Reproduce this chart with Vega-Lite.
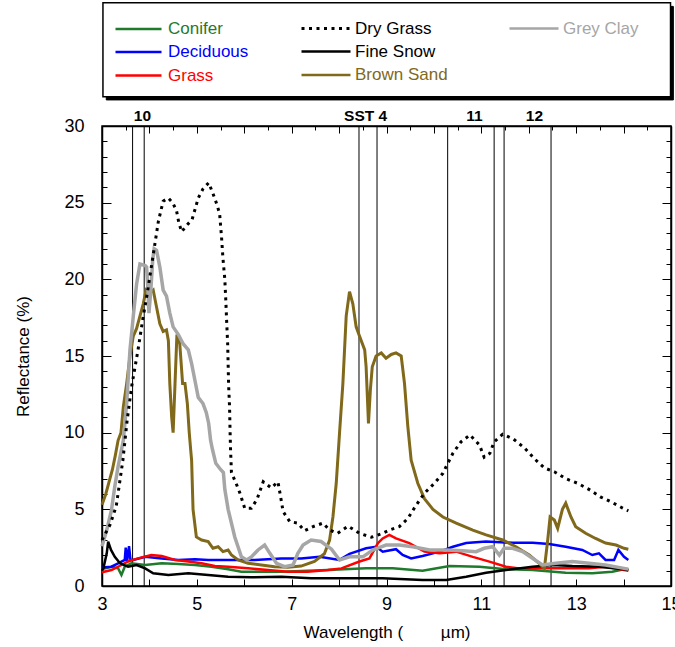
{
  "$schema": "https://vega.github.io/schema/vega-lite/v6.json",
  "autosize": "none",
  "width": 569,
  "height": 460,
  "padding": {"left": 102, "top": 126, "right": 4, "bottom": 61},
  "config": {
    "font": "Liberation Sans",
    "view": {"stroke": "#000", "strokeWidth": 1.5},
    "axis": {"domainColor": "#000", "domainWidth": 1.5, "tickColor": "#000", "labelColor": "#000", "titleColor": "#000", "grid": false, "labelFont": "Liberation Sans", "titleFont": "Liberation Sans"},
    "legend": {"labelFont": "Liberation Sans"}
  },
  "datasets": {
    "one": [{}],
    "bands": [{"wl": 3.645}, {"wl": 3.89}, {"wl": 8.42}, {"wl": 8.8}, {"wl": 10.29}, {"wl": 11.27}, {"wl": 11.48}, {"wl": 12.47}],
    "bandlabels": [{"label": "10", "wl": 3.854}, {"label": "SST 4", "wl": 8.56}, {"label": "11", "wl": 10.855}, {"label": "12", "wl": 12.12}],
    "conifer": [
      {"series": "Conifer", "wl": 3.0, "refl": 1.1}, {"series": "Conifer", "wl": 3.2, "refl": 1.26}, {"series": "Conifer", "wl": 3.34, "refl": 1.15}, {"series": "Conifer", "wl": 3.41, "refl": 0.72}, {"series": "Conifer", "wl": 3.48, "refl": 1.26}, {"series": "Conifer", "wl": 3.62, "refl": 1.48}, {"series": "Conifer", "wl": 3.91, "refl": 1.37}, {"series": "Conifer", "wl": 4.26, "refl": 1.48}, {"series": "Conifer", "wl": 4.61, "refl": 1.44}, {"series": "Conifer", "wl": 4.96, "refl": 1.37}, {"series": "Conifer", "wl": 5.31, "refl": 1.26}, {"series": "Conifer", "wl": 5.66, "refl": 1.09}, {"series": "Conifer", "wl": 5.94, "refl": 0.93}, {"series": "Conifer", "wl": 6.36, "refl": 0.93}, {"series": "Conifer", "wl": 6.78, "refl": 0.93}, {"series": "Conifer", "wl": 7.2, "refl": 0.98}, {"series": "Conifer", "wl": 7.76, "refl": 1.04}, {"series": "Conifer", "wl": 8.57, "refl": 1.15}, {"series": "Conifer", "wl": 9.13, "refl": 1.15}, {"series": "Conifer", "wl": 9.76, "refl": 1.0}, {"series": "Conifer", "wl": 10.33, "refl": 1.3}, {"series": "Conifer", "wl": 10.96, "refl": 1.26}, {"series": "Conifer", "wl": 11.52, "refl": 1.09}, {"series": "Conifer", "wl": 12.08, "refl": 1.04}, {"series": "Conifer", "wl": 12.78, "refl": 0.87}, {"series": "Conifer", "wl": 13.34, "refl": 0.83}, {"series": "Conifer", "wl": 13.76, "refl": 0.93}, {"series": "Conifer", "wl": 14.01, "refl": 1.09}, {"series": "Conifer", "wl": 14.1, "refl": 1.1}
    ],
    "deciduous": [
      {"series": "Deciduous", "wl": 3.0, "refl": 1.2}, {"series": "Deciduous", "wl": 3.2, "refl": 1.26}, {"series": "Deciduous", "wl": 3.34, "refl": 1.48}, {"series": "Deciduous", "wl": 3.48, "refl": 1.7}, {"series": "Deciduous", "wl": 3.5, "refl": 2.5}, {"series": "Deciduous", "wl": 3.53, "refl": 1.6}, {"series": "Deciduous", "wl": 3.57, "refl": 2.6}, {"series": "Deciduous", "wl": 3.6, "refl": 1.7}, {"series": "Deciduous", "wl": 3.66, "refl": 1.7}, {"series": "Deciduous", "wl": 3.91, "refl": 1.9}, {"series": "Deciduous", "wl": 4.26, "refl": 1.8}, {"series": "Deciduous", "wl": 4.61, "refl": 1.7}, {"series": "Deciduous", "wl": 4.96, "refl": 1.74}, {"series": "Deciduous", "wl": 5.24, "refl": 1.7}, {"series": "Deciduous", "wl": 5.8, "refl": 1.7}, {"series": "Deciduous", "wl": 6.22, "refl": 1.7}, {"series": "Deciduous", "wl": 6.78, "refl": 1.8}, {"series": "Deciduous", "wl": 7.2, "refl": 1.8}, {"series": "Deciduous", "wl": 7.59, "refl": 1.9}, {"series": "Deciduous", "wl": 8.01, "refl": 1.7}, {"series": "Deciduous", "wl": 8.22, "refl": 2.1}, {"series": "Deciduous", "wl": 8.57, "refl": 2.46}, {"series": "Deciduous", "wl": 8.78, "refl": 2.56}, {"series": "Deciduous", "wl": 8.92, "refl": 2.24}, {"series": "Deciduous", "wl": 9.2, "refl": 2.4}, {"series": "Deciduous", "wl": 9.34, "refl": 2.02}, {"series": "Deciduous", "wl": 9.52, "refl": 1.8}, {"series": "Deciduous", "wl": 9.76, "refl": 1.96}, {"series": "Deciduous", "wl": 10.12, "refl": 2.24}, {"series": "Deciduous", "wl": 10.4, "refl": 2.56}, {"series": "Deciduous", "wl": 10.68, "refl": 2.8}, {"series": "Deciduous", "wl": 11.1, "refl": 2.9}, {"series": "Deciduous", "wl": 11.66, "refl": 2.82}, {"series": "Deciduous", "wl": 12.08, "refl": 2.82}, {"series": "Deciduous", "wl": 12.43, "refl": 2.74}, {"series": "Deciduous", "wl": 12.78, "refl": 2.56}, {"series": "Deciduous", "wl": 13.13, "refl": 2.35}, {"series": "Deciduous", "wl": 13.34, "refl": 2.02}, {"series": "Deciduous", "wl": 13.48, "refl": 2.13}, {"series": "Deciduous", "wl": 13.62, "refl": 1.7}, {"series": "Deciduous", "wl": 13.8, "refl": 1.7}, {"series": "Deciduous", "wl": 13.89, "refl": 2.35}, {"series": "Deciduous", "wl": 14.01, "refl": 1.9}, {"series": "Deciduous", "wl": 14.1, "refl": 1.7}
    ],
    "grass": [
      {"series": "Grass", "wl": 3.0, "refl": 0.9}, {"series": "Grass", "wl": 3.2, "refl": 1.04}, {"series": "Grass", "wl": 3.41, "refl": 1.37}, {"series": "Grass", "wl": 3.55, "refl": 1.6}, {"series": "Grass", "wl": 3.76, "refl": 1.8}, {"series": "Grass", "wl": 4.04, "refl": 2.02}, {"series": "Grass", "wl": 4.26, "refl": 1.96}, {"series": "Grass", "wl": 4.54, "refl": 1.7}, {"series": "Grass", "wl": 4.82, "refl": 1.6}, {"series": "Grass", "wl": 5.1, "refl": 1.48}, {"series": "Grass", "wl": 5.38, "refl": 1.3}, {"series": "Grass", "wl": 5.66, "refl": 1.26}, {"series": "Grass", "wl": 6.08, "refl": 1.15}, {"series": "Grass", "wl": 6.5, "refl": 1.04}, {"series": "Grass", "wl": 6.92, "refl": 0.93}, {"series": "Grass", "wl": 7.34, "refl": 0.93}, {"series": "Grass", "wl": 7.76, "refl": 1.04}, {"series": "Grass", "wl": 8.05, "refl": 1.15}, {"series": "Grass", "wl": 8.43, "refl": 1.6}, {"series": "Grass", "wl": 8.64, "refl": 1.8}, {"series": "Grass", "wl": 8.82, "refl": 2.8}, {"series": "Grass", "wl": 8.92, "refl": 3.1}, {"series": "Grass", "wl": 9.06, "refl": 3.33}, {"series": "Grass", "wl": 9.2, "refl": 3.1}, {"series": "Grass", "wl": 9.48, "refl": 2.8}, {"series": "Grass", "wl": 9.8, "refl": 2.24}, {"series": "Grass", "wl": 10.12, "refl": 2.13}, {"series": "Grass", "wl": 10.47, "refl": 2.24}, {"series": "Grass", "wl": 10.82, "refl": 1.9}, {"series": "Grass", "wl": 11.17, "refl": 1.59}, {"series": "Grass", "wl": 11.52, "refl": 1.26}, {"series": "Grass", "wl": 11.8, "refl": 1.15}, {"series": "Grass", "wl": 12.22, "refl": 1.15}, {"series": "Grass", "wl": 12.78, "refl": 1.15}, {"series": "Grass", "wl": 13.27, "refl": 1.15}, {"series": "Grass", "wl": 13.62, "refl": 1.26}, {"series": "Grass", "wl": 14.01, "refl": 1.04}, {"series": "Grass", "wl": 14.1, "refl": 1.0}
    ],
    "drygrass": [
      {"series": "Dry Grass", "wl": 3.0, "refl": 3.0}, {"series": "Dry Grass", "wl": 3.17, "refl": 4.0}, {"series": "Dry Grass", "wl": 3.3, "refl": 5.2}, {"series": "Dry Grass", "wl": 3.44, "refl": 8.2}, {"series": "Dry Grass", "wl": 3.53, "refl": 10.8}, {"series": "Dry Grass", "wl": 3.63, "refl": 13.1}, {"series": "Dry Grass", "wl": 3.76, "refl": 15.4}, {"series": "Dry Grass", "wl": 3.86, "refl": 17.4}, {"series": "Dry Grass", "wl": 3.95, "refl": 19.0}, {"series": "Dry Grass", "wl": 4.05, "refl": 21.0}, {"series": "Dry Grass", "wl": 4.12, "refl": 22.4}, {"series": "Dry Grass", "wl": 4.19, "refl": 23.8}, {"series": "Dry Grass", "wl": 4.29, "refl": 25.1}, {"series": "Dry Grass", "wl": 4.4, "refl": 25.3}, {"series": "Dry Grass", "wl": 4.49, "refl": 25.0}, {"series": "Dry Grass", "wl": 4.57, "refl": 24.5}, {"series": "Dry Grass", "wl": 4.62, "refl": 23.7}, {"series": "Dry Grass", "wl": 4.68, "refl": 23.1}, {"series": "Dry Grass", "wl": 4.78, "refl": 23.5}, {"series": "Dry Grass", "wl": 4.9, "refl": 23.9}, {"series": "Dry Grass", "wl": 5.03, "refl": 25.3}, {"series": "Dry Grass", "wl": 5.13, "refl": 25.9}, {"series": "Dry Grass", "wl": 5.25, "refl": 26.3}, {"series": "Dry Grass", "wl": 5.34, "refl": 25.6}, {"series": "Dry Grass", "wl": 5.41, "refl": 25.0}, {"series": "Dry Grass", "wl": 5.48, "refl": 24.3}, {"series": "Dry Grass", "wl": 5.52, "refl": 22.8}, {"series": "Dry Grass", "wl": 5.55, "refl": 21.4}, {"series": "Dry Grass", "wl": 5.59, "refl": 20.0}, {"series": "Dry Grass", "wl": 5.61, "refl": 18.7}, {"series": "Dry Grass", "wl": 5.63, "refl": 17.2}, {"series": "Dry Grass", "wl": 5.65, "refl": 15.8}, {"series": "Dry Grass", "wl": 5.66, "refl": 14.5}, {"series": "Dry Grass", "wl": 5.67, "refl": 13.1}, {"series": "Dry Grass", "wl": 5.69, "refl": 11.7}, {"series": "Dry Grass", "wl": 5.7, "refl": 10.2}, {"series": "Dry Grass", "wl": 5.71, "refl": 9.0}, {"series": "Dry Grass", "wl": 5.73, "refl": 7.4}, {"series": "Dry Grass", "wl": 5.84, "refl": 6.6}, {"series": "Dry Grass", "wl": 5.91, "refl": 6.05}, {"series": "Dry Grass", "wl": 6.01, "refl": 5.07}, {"series": "Dry Grass", "wl": 6.15, "refl": 5.07}, {"series": "Dry Grass", "wl": 6.27, "refl": 5.66}, {"series": "Dry Grass", "wl": 6.4, "refl": 6.8}, {"series": "Dry Grass", "wl": 6.57, "refl": 6.4}, {"series": "Dry Grass", "wl": 6.71, "refl": 6.8}, {"series": "Dry Grass", "wl": 6.76, "refl": 5.94}, {"series": "Dry Grass", "wl": 6.82, "refl": 4.85}, {"series": "Dry Grass", "wl": 6.96, "refl": 4.2}, {"series": "Dry Grass", "wl": 7.13, "refl": 4.1}, {"series": "Dry Grass", "wl": 7.27, "refl": 3.6}, {"series": "Dry Grass", "wl": 7.45, "refl": 3.87}, {"series": "Dry Grass", "wl": 7.66, "refl": 4.1}, {"series": "Dry Grass", "wl": 7.8, "refl": 3.65}, {"series": "Dry Grass", "wl": 7.97, "refl": 3.44}, {"series": "Dry Grass", "wl": 8.19, "refl": 3.9}, {"series": "Dry Grass", "wl": 8.43, "refl": 3.44}, {"series": "Dry Grass", "wl": 8.68, "refl": 3.18}, {"series": "Dry Grass", "wl": 8.89, "refl": 3.4}, {"series": "Dry Grass", "wl": 9.06, "refl": 3.65}, {"series": "Dry Grass", "wl": 9.27, "refl": 3.87}, {"series": "Dry Grass", "wl": 9.45, "refl": 4.4}, {"series": "Dry Grass", "wl": 9.61, "refl": 5.2}, {"series": "Dry Grass", "wl": 9.8, "refl": 6.05}, {"series": "Dry Grass", "wl": 10.01, "refl": 6.7}, {"series": "Dry Grass", "wl": 10.19, "refl": 7.35}, {"series": "Dry Grass", "wl": 10.26, "refl": 7.8}, {"series": "Dry Grass", "wl": 10.4, "refl": 8.65}, {"series": "Dry Grass", "wl": 10.57, "refl": 9.4}, {"series": "Dry Grass", "wl": 10.76, "refl": 9.85}, {"series": "Dry Grass", "wl": 10.96, "refl": 9.2}, {"series": "Dry Grass", "wl": 11.06, "refl": 8.4}, {"series": "Dry Grass", "wl": 11.18, "refl": 8.65}, {"series": "Dry Grass", "wl": 11.27, "refl": 9.4}, {"series": "Dry Grass", "wl": 11.45, "refl": 9.9}, {"series": "Dry Grass", "wl": 11.67, "refl": 9.6}, {"series": "Dry Grass", "wl": 11.91, "refl": 9.0}, {"series": "Dry Grass", "wl": 12.12, "refl": 8.3}, {"series": "Dry Grass", "wl": 12.33, "refl": 7.7}, {"series": "Dry Grass", "wl": 12.54, "refl": 7.45}, {"series": "Dry Grass", "wl": 12.78, "refl": 7.0}, {"series": "Dry Grass", "wl": 13.03, "refl": 6.7}, {"series": "Dry Grass", "wl": 13.27, "refl": 6.3}, {"series": "Dry Grass", "wl": 13.52, "refl": 5.8}, {"series": "Dry Grass", "wl": 13.73, "refl": 5.5}, {"series": "Dry Grass", "wl": 13.97, "refl": 5.1}, {"series": "Dry Grass", "wl": 14.1, "refl": 4.9}
    ],
    "snow": [
      {"series": "Fine Snow", "wl": 3.0, "refl": 1.0}, {"series": "Fine Snow", "wl": 3.03, "refl": 1.15}, {"series": "Fine Snow", "wl": 3.1, "refl": 2.13}, {"series": "Fine Snow", "wl": 3.13, "refl": 2.9}, {"series": "Fine Snow", "wl": 3.19, "refl": 2.35}, {"series": "Fine Snow", "wl": 3.27, "refl": 1.9}, {"series": "Fine Snow", "wl": 3.38, "refl": 1.48}, {"series": "Fine Snow", "wl": 3.55, "refl": 1.26}, {"series": "Fine Snow", "wl": 3.73, "refl": 1.37}, {"series": "Fine Snow", "wl": 3.91, "refl": 1.15}, {"series": "Fine Snow", "wl": 4.08, "refl": 0.83}, {"series": "Fine Snow", "wl": 4.4, "refl": 0.72}, {"series": "Fine Snow", "wl": 4.82, "refl": 0.83}, {"series": "Fine Snow", "wl": 5.24, "refl": 0.72}, {"series": "Fine Snow", "wl": 5.66, "refl": 0.61}, {"series": "Fine Snow", "wl": 6.15, "refl": 0.57}, {"series": "Fine Snow", "wl": 6.78, "refl": 0.61}, {"series": "Fine Snow", "wl": 7.41, "refl": 0.5}, {"series": "Fine Snow", "wl": 8.05, "refl": 0.5}, {"series": "Fine Snow", "wl": 8.92, "refl": 0.5}, {"series": "Fine Snow", "wl": 9.76, "refl": 0.39}, {"series": "Fine Snow", "wl": 10.26, "refl": 0.39}, {"series": "Fine Snow", "wl": 10.68, "refl": 0.61}, {"series": "Fine Snow", "wl": 11.1, "refl": 0.87}, {"series": "Fine Snow", "wl": 11.52, "refl": 1.04}, {"series": "Fine Snow", "wl": 12.08, "refl": 1.26}, {"series": "Fine Snow", "wl": 12.5, "refl": 1.37}, {"series": "Fine Snow", "wl": 12.92, "refl": 1.3}, {"series": "Fine Snow", "wl": 13.48, "refl": 1.26}, {"series": "Fine Snow", "wl": 14.01, "refl": 1.09}, {"series": "Fine Snow", "wl": 14.1, "refl": 1.05}
    ],
    "sand": [
      {"series": "Brown Sand", "wl": 3.0, "refl": 5.3}, {"series": "Brown Sand", "wl": 3.08, "refl": 6.0}, {"series": "Brown Sand", "wl": 3.15, "refl": 6.8}, {"series": "Brown Sand", "wl": 3.22, "refl": 7.6}, {"series": "Brown Sand", "wl": 3.28, "refl": 8.5}, {"series": "Brown Sand", "wl": 3.34, "refl": 9.5}, {"series": "Brown Sand", "wl": 3.4, "refl": 10.0}, {"series": "Brown Sand", "wl": 3.45, "refl": 11.7}, {"series": "Brown Sand", "wl": 3.52, "refl": 13.2}, {"series": "Brown Sand", "wl": 3.59, "refl": 15.0}, {"series": "Brown Sand", "wl": 3.66, "refl": 16.3}, {"series": "Brown Sand", "wl": 3.73, "refl": 16.8}, {"series": "Brown Sand", "wl": 3.8, "refl": 17.6}, {"series": "Brown Sand", "wl": 3.87, "refl": 18.4}, {"series": "Brown Sand", "wl": 3.93, "refl": 19.3}, {"series": "Brown Sand", "wl": 4.01, "refl": 19.1}, {"series": "Brown Sand", "wl": 4.08, "refl": 19.3}, {"series": "Brown Sand", "wl": 4.15, "refl": 18.2}, {"series": "Brown Sand", "wl": 4.22, "refl": 17.1}, {"series": "Brown Sand", "wl": 4.29, "refl": 16.6}, {"series": "Brown Sand", "wl": 4.36, "refl": 16.7}, {"series": "Brown Sand", "wl": 4.4, "refl": 16.0}, {"series": "Brown Sand", "wl": 4.43, "refl": 13.2}, {"series": "Brown Sand", "wl": 4.47, "refl": 11.0}, {"series": "Brown Sand", "wl": 4.5, "refl": 10.0}, {"series": "Brown Sand", "wl": 4.54, "refl": 13.2}, {"series": "Brown Sand", "wl": 4.58, "refl": 16.4}, {"series": "Brown Sand", "wl": 4.64, "refl": 15.8}, {"series": "Brown Sand", "wl": 4.7, "refl": 13.2}, {"series": "Brown Sand", "wl": 4.75, "refl": 13.2}, {"series": "Brown Sand", "wl": 4.8, "refl": 11.9}, {"series": "Brown Sand", "wl": 4.84, "refl": 10.0}, {"series": "Brown Sand", "wl": 4.87, "refl": 8.9}, {"series": "Brown Sand", "wl": 4.89, "refl": 8.2}, {"series": "Brown Sand", "wl": 4.92, "refl": 5.0}, {"series": "Brown Sand", "wl": 4.99, "refl": 3.2}, {"series": "Brown Sand", "wl": 5.1, "refl": 3.0}, {"series": "Brown Sand", "wl": 5.24, "refl": 2.9}, {"series": "Brown Sand", "wl": 5.34, "refl": 2.46}, {"series": "Brown Sand", "wl": 5.45, "refl": 2.56}, {"series": "Brown Sand", "wl": 5.55, "refl": 2.24}, {"series": "Brown Sand", "wl": 5.66, "refl": 2.35}, {"series": "Brown Sand", "wl": 5.73, "refl": 2.02}, {"series": "Brown Sand", "wl": 5.87, "refl": 1.7}, {"series": "Brown Sand", "wl": 6.08, "refl": 1.48}, {"series": "Brown Sand", "wl": 6.36, "refl": 1.37}, {"series": "Brown Sand", "wl": 6.64, "refl": 1.26}, {"series": "Brown Sand", "wl": 6.92, "refl": 1.22}, {"series": "Brown Sand", "wl": 7.2, "refl": 1.3}, {"series": "Brown Sand", "wl": 7.48, "refl": 1.6}, {"series": "Brown Sand", "wl": 7.69, "refl": 2.1}, {"series": "Brown Sand", "wl": 7.8, "refl": 3.0}, {"series": "Brown Sand", "wl": 7.87, "refl": 4.5}, {"series": "Brown Sand", "wl": 7.94, "refl": 6.7}, {"series": "Brown Sand", "wl": 8.01, "refl": 10.0}, {"series": "Brown Sand", "wl": 8.08, "refl": 13.2}, {"series": "Brown Sand", "wl": 8.15, "refl": 17.6}, {"series": "Brown Sand", "wl": 8.22, "refl": 19.2}, {"series": "Brown Sand", "wl": 8.29, "refl": 18.4}, {"series": "Brown Sand", "wl": 8.36, "refl": 16.9}, {"series": "Brown Sand", "wl": 8.43, "refl": 16.3}, {"series": "Brown Sand", "wl": 8.54, "refl": 15.4}, {"series": "Brown Sand", "wl": 8.57, "refl": 14.3}, {"series": "Brown Sand", "wl": 8.62, "refl": 10.6}, {"series": "Brown Sand", "wl": 8.66, "refl": 12.8}, {"series": "Brown Sand", "wl": 8.7, "refl": 14.3}, {"series": "Brown Sand", "wl": 8.78, "refl": 15.0}, {"series": "Brown Sand", "wl": 8.89, "refl": 15.2}, {"series": "Brown Sand", "wl": 8.99, "refl": 14.85}, {"series": "Brown Sand", "wl": 9.1, "refl": 15.1}, {"series": "Brown Sand", "wl": 9.2, "refl": 15.2}, {"series": "Brown Sand", "wl": 9.31, "refl": 15.0}, {"series": "Brown Sand", "wl": 9.38, "refl": 13.2}, {"series": "Brown Sand", "wl": 9.45, "refl": 10.4}, {"series": "Brown Sand", "wl": 9.52, "refl": 8.2}, {"series": "Brown Sand", "wl": 9.66, "refl": 6.7}, {"series": "Brown Sand", "wl": 9.8, "refl": 5.7}, {"series": "Brown Sand", "wl": 9.98, "refl": 5.0}, {"series": "Brown Sand", "wl": 10.19, "refl": 4.5}, {"series": "Brown Sand", "wl": 10.47, "refl": 4.1}, {"series": "Brown Sand", "wl": 10.82, "refl": 3.65}, {"series": "Brown Sand", "wl": 11.1, "refl": 3.33}, {"series": "Brown Sand", "wl": 11.45, "refl": 3.0}, {"series": "Brown Sand", "wl": 11.73, "refl": 2.56}, {"series": "Brown Sand", "wl": 12.01, "refl": 2.02}, {"series": "Brown Sand", "wl": 12.22, "refl": 1.48}, {"series": "Brown Sand", "wl": 12.33, "refl": 1.15}, {"series": "Brown Sand", "wl": 12.4, "refl": 3.0}, {"series": "Brown Sand", "wl": 12.45, "refl": 4.5}, {"series": "Brown Sand", "wl": 12.54, "refl": 4.3}, {"series": "Brown Sand", "wl": 12.61, "refl": 3.76}, {"series": "Brown Sand", "wl": 12.71, "refl": 5.0}, {"series": "Brown Sand", "wl": 12.78, "refl": 5.4}, {"series": "Brown Sand", "wl": 12.89, "refl": 4.5}, {"series": "Brown Sand", "wl": 12.99, "refl": 3.87}, {"series": "Brown Sand", "wl": 13.2, "refl": 3.44}, {"series": "Brown Sand", "wl": 13.41, "refl": 3.1}, {"series": "Brown Sand", "wl": 13.62, "refl": 2.8}, {"series": "Brown Sand", "wl": 13.84, "refl": 2.67}, {"series": "Brown Sand", "wl": 14.01, "refl": 2.46}, {"series": "Brown Sand", "wl": 14.1, "refl": 2.4}
    ],
    "clay": [
      {"series": "Grey Clay", "wl": 3.0, "refl": 2.6}, {"series": "Grey Clay", "wl": 3.1, "refl": 3.65}, {"series": "Grey Clay", "wl": 3.2, "refl": 4.96}, {"series": "Grey Clay", "wl": 3.27, "refl": 6.5}, {"series": "Grey Clay", "wl": 3.34, "refl": 7.8}, {"series": "Grey Clay", "wl": 3.45, "refl": 9.5}, {"series": "Grey Clay", "wl": 3.52, "refl": 11.9}, {"series": "Grey Clay", "wl": 3.59, "refl": 15.4}, {"series": "Grey Clay", "wl": 3.66, "refl": 17.6}, {"series": "Grey Clay", "wl": 3.73, "refl": 19.7}, {"series": "Grey Clay", "wl": 3.8, "refl": 21.0}, {"series": "Grey Clay", "wl": 3.91, "refl": 20.9}, {"series": "Grey Clay", "wl": 3.94, "refl": 20.8}, {"series": "Grey Clay", "wl": 3.97, "refl": 19.3}, {"series": "Grey Clay", "wl": 3.99, "refl": 17.8}, {"series": "Grey Clay", "wl": 4.03, "refl": 19.3}, {"series": "Grey Clay", "wl": 4.07, "refl": 21.3}, {"series": "Grey Clay", "wl": 4.1, "refl": 22.0}, {"series": "Grey Clay", "wl": 4.15, "refl": 21.9}, {"series": "Grey Clay", "wl": 4.22, "refl": 20.8}, {"series": "Grey Clay", "wl": 4.29, "refl": 19.3}, {"series": "Grey Clay", "wl": 4.36, "refl": 18.9}, {"series": "Grey Clay", "wl": 4.43, "refl": 17.8}, {"series": "Grey Clay", "wl": 4.5, "refl": 16.9}, {"series": "Grey Clay", "wl": 4.61, "refl": 16.4}, {"series": "Grey Clay", "wl": 4.71, "refl": 15.8}, {"series": "Grey Clay", "wl": 4.82, "refl": 15.4}, {"series": "Grey Clay", "wl": 4.89, "refl": 14.5}, {"series": "Grey Clay", "wl": 4.96, "refl": 13.4}, {"series": "Grey Clay", "wl": 5.03, "refl": 12.3}, {"series": "Grey Clay", "wl": 5.13, "refl": 11.9}, {"series": "Grey Clay", "wl": 5.2, "refl": 11.3}, {"series": "Grey Clay", "wl": 5.25, "refl": 10.6}, {"series": "Grey Clay", "wl": 5.29, "refl": 9.5}, {"series": "Grey Clay", "wl": 5.33, "refl": 8.9}, {"series": "Grey Clay", "wl": 5.4, "refl": 8.0}, {"series": "Grey Clay", "wl": 5.5, "refl": 7.6}, {"series": "Grey Clay", "wl": 5.56, "refl": 7.4}, {"series": "Grey Clay", "wl": 5.59, "refl": 6.3}, {"series": "Grey Clay", "wl": 5.66, "refl": 5.0}, {"series": "Grey Clay", "wl": 5.8, "refl": 3.2}, {"series": "Grey Clay", "wl": 5.94, "refl": 1.9}, {"series": "Grey Clay", "wl": 6.05, "refl": 1.7}, {"series": "Grey Clay", "wl": 6.15, "refl": 1.9}, {"series": "Grey Clay", "wl": 6.29, "refl": 2.35}, {"series": "Grey Clay", "wl": 6.43, "refl": 2.67}, {"series": "Grey Clay", "wl": 6.54, "refl": 2.13}, {"series": "Grey Clay", "wl": 6.68, "refl": 1.48}, {"series": "Grey Clay", "wl": 6.85, "refl": 1.26}, {"series": "Grey Clay", "wl": 7.03, "refl": 1.37}, {"series": "Grey Clay", "wl": 7.13, "refl": 2.13}, {"series": "Grey Clay", "wl": 7.24, "refl": 2.67}, {"series": "Grey Clay", "wl": 7.41, "refl": 3.0}, {"series": "Grey Clay", "wl": 7.62, "refl": 2.9}, {"series": "Grey Clay", "wl": 7.84, "refl": 2.4}, {"series": "Grey Clay", "wl": 8.01, "refl": 1.7}, {"series": "Grey Clay", "wl": 8.22, "refl": 1.9}, {"series": "Grey Clay", "wl": 8.5, "refl": 1.9}, {"series": "Grey Clay", "wl": 8.71, "refl": 2.35}, {"series": "Grey Clay", "wl": 8.99, "refl": 2.67}, {"series": "Grey Clay", "wl": 9.27, "refl": 2.67}, {"series": "Grey Clay", "wl": 9.55, "refl": 2.56}, {"series": "Grey Clay", "wl": 9.91, "refl": 2.35}, {"series": "Grey Clay", "wl": 10.26, "refl": 2.35}, {"series": "Grey Clay", "wl": 10.61, "refl": 2.3}, {"series": "Grey Clay", "wl": 10.89, "refl": 2.24}, {"series": "Grey Clay", "wl": 11.06, "refl": 2.46}, {"series": "Grey Clay", "wl": 11.24, "refl": 2.56}, {"series": "Grey Clay", "wl": 11.38, "refl": 2.02}, {"series": "Grey Clay", "wl": 11.48, "refl": 2.46}, {"series": "Grey Clay", "wl": 11.66, "refl": 2.46}, {"series": "Grey Clay", "wl": 11.87, "refl": 2.24}, {"series": "Grey Clay", "wl": 12.08, "refl": 1.8}, {"series": "Grey Clay", "wl": 12.29, "refl": 1.37}, {"series": "Grey Clay", "wl": 12.57, "refl": 1.48}, {"series": "Grey Clay", "wl": 12.92, "refl": 1.59}, {"series": "Grey Clay", "wl": 13.27, "refl": 1.48}, {"series": "Grey Clay", "wl": 13.62, "refl": 1.37}, {"series": "Grey Clay", "wl": 14.01, "refl": 1.15}, {"series": "Grey Clay", "wl": 14.1, "refl": 1.1}
    ]
  },
  "resolve": {
    "scale": {"color": "independent"},
    "legend": {"color": "independent"},
    "axis": {"x": "independent", "y": "independent"}
  },
  "layer": [
    {
      "data": {"name": "one"},
      "mark": {"type": "rect", "fill": "#000", "stroke": "#000", "strokeWidth": 1},
      "encoding": {
        "x": {"datum": 3.09, "type": "quantitative", "scale": {"domain": [3, 15], "nice": false, "zero": false}, "axis": null},
        "x2": {"datum": 15.05},
        "y": {"datum": 37.8, "type": "quantitative", "scale": {"domain": [0, 30], "nice": false}, "axis": null},
        "y2": {"datum": 31.7}
      }
    },
    {
      "data": {"name": "one"},
      "mark": {"type": "rect", "fill": "#fff", "stroke": "#000", "strokeWidth": 1.5},
      "encoding": {
        "x": {"datum": 3.02, "type": "quantitative", "axis": null},
        "x2": {"datum": 14.99},
        "y": {"datum": 38.03, "type": "quantitative", "axis": null},
        "y2": {"datum": 31.9}
      }
    },
    {
      "data": {"name": "bands"},
      "mark": {"type": "rule", "color": "#000", "strokeWidth": 1},
      "encoding": {
        "x": {"field": "wl", "type": "quantitative", "axis": null},
        "y": {"datum": 0, "type": "quantitative", "axis": null},
        "y2": {"datum": 30}
      }
    },
    {
      "data": {"name": "bandlabels"},
      "mark": {"type": "text", "fontWeight": "bold", "fontSize": 15.5, "font": "Liberation Sans", "baseline": "alphabetic", "align": "center", "dy": -5, "color": "#000"},
      "encoding": {
        "x": {"field": "wl", "type": "quantitative", "axis": null},
        "y": {"datum": 30, "type": "quantitative", "axis": null},
        "text": {"field": "label"}
      }
    },
    {
      "data": {"name": "conifer"},
      "mark": {"type": "line", "strokeWidth": 2.5},
      "encoding": {
        "x": {"field": "wl", "type": "quantitative", "title": "Wavelength (\u00a0\u00a0\u00a0\u00a0\u00a0\u00a0\u00a0\u00a0µm)",
          "axis": {"orient": "bottom", "values": [3, 3.5, 4, 4.5, 5, 5.5, 6, 6.5, 7, 7.5, 8, 8.5, 9, 9.5, 10, 10.5, 11, 11.5, 12, 12.5, 13, 13.5, 14, 14.5, 15], "format": "d",
            "labelExpr": "datum.value % 2 === 1 ? datum.label : ''",
            "tickSize": {"condition": {"test": "datum.value % 1 === 0", "value": -7}, "value": -4},
            "labelPadding": 16, "labelFontSize": 18, "labelFlush": false, "titleFontSize": 17, "titleFontWeight": "normal", "titlePadding": 11}},
        "y": {"field": "refl", "type": "quantitative", "title": "Reflectance (%)",
          "axis": {"orient": "left", "values": [0, 1, 2, 3, 4, 5, 6, 7, 8, 9, 10, 11, 12, 13, 14, 15, 16, 17, 18, 19, 20, 21, 22, 23, 24, 25, 26, 27, 28, 29, 30],
            "labelExpr": "datum.value % 5 === 0 ? datum.label : ''",
            "tickSize": {"condition": {"test": "datum.value % 5 === 0", "value": -9}, "value": -5},
            "labelPadding": 27, "labelFontSize": 18, "labelFlush": false, "titleFontSize": 17, "titleFontWeight": "normal", "titlePadding": 31}},
        "color": {"field": "series", "type": "nominal", "scale": {"range": ["#1f7a2c"]},
          "legend": {"orient": "none", "legendX": 12, "legendY": -121.5, "title": null, "padding": 0, "symbolType": "stroke", "symbolSize": 2116, "symbolStrokeWidth": 2.5, "labelFontSize": 17, "labelColor": "#1f7a2c", "labelOffset": 5}}
      }
    },
    {
      "data": {"name": "deciduous"},
      "mark": {"type": "line", "strokeWidth": 2.5},
      "encoding": {
        "x": {"field": "wl", "type": "quantitative", "axis": null},
        "y": {"field": "refl", "type": "quantitative", "axis": null},
        "color": {"field": "series", "type": "nominal", "scale": {"range": ["#0000ff"]},
          "legend": {"orient": "none", "legendX": 12, "legendY": -98.5, "title": null, "padding": 0, "symbolType": "stroke", "symbolSize": 2116, "symbolStrokeWidth": 2.5, "labelFontSize": 17, "labelColor": "#0000ff", "labelOffset": 5}}
      }
    },
    {
      "data": {"name": "grass"},
      "mark": {"type": "line", "strokeWidth": 2.5},
      "encoding": {
        "x": {"field": "wl", "type": "quantitative", "axis": null},
        "y": {"field": "refl", "type": "quantitative", "axis": null},
        "color": {"field": "series", "type": "nominal", "scale": {"range": ["#ff0000"]},
          "legend": {"orient": "none", "legendX": 12, "legendY": -75, "title": null, "padding": 0, "symbolType": "stroke", "symbolSize": 2116, "symbolStrokeWidth": 2.5, "labelFontSize": 17, "labelColor": "#ff0000", "labelOffset": 5}}
      }
    },
    {
      "data": {"name": "snow"},
      "mark": {"type": "line", "strokeWidth": 2.5},
      "encoding": {
        "x": {"field": "wl", "type": "quantitative", "axis": null},
        "y": {"field": "refl", "type": "quantitative", "axis": null},
        "color": {"field": "series", "type": "nominal", "scale": {"range": ["#000000"]},
          "legend": {"orient": "none", "legendX": 198, "legendY": -100.5, "title": null, "padding": 0, "symbolType": "stroke", "symbolSize": 2401, "symbolStrokeWidth": 2.5, "labelFontSize": 17, "labelColor": "#000000", "labelOffset": 3}}
      }
    },
    {
      "data": {"name": "sand"},
      "mark": {"type": "line", "strokeWidth": 3},
      "encoding": {
        "x": {"field": "wl", "type": "quantitative", "axis": null},
        "y": {"field": "refl", "type": "quantitative", "axis": null},
        "color": {"field": "series", "type": "nominal", "scale": {"range": ["#80691a"]},
          "legend": {"orient": "none", "legendX": 198, "legendY": -77, "title": null, "padding": 0, "symbolType": "stroke", "symbolSize": 2401, "symbolStrokeWidth": 2.5, "labelFontSize": 17, "labelColor": "#80691a", "labelOffset": 3}}
      }
    },
    {
      "data": {"name": "clay"},
      "mark": {"type": "line", "strokeWidth": 3.5},
      "encoding": {
        "x": {"field": "wl", "type": "quantitative", "axis": null},
        "y": {"field": "refl", "type": "quantitative", "axis": null},
        "color": {"field": "series", "type": "nominal", "scale": {"range": ["#a6a6a6"]},
          "legend": {"orient": "none", "legendX": 406, "legendY": -123.5, "title": null, "padding": 0, "symbolType": "stroke", "symbolSize": 2401, "symbolStrokeWidth": 2.5, "labelFontSize": 17, "labelColor": "#a6a6a6", "labelOffset": 3}}
      }
    },
    {
      "data": {"name": "drygrass"},
      "mark": {"type": "line", "strokeWidth": 3, "strokeDash": [3, 4.5], "strokeCap": "butt"},
      "encoding": {
        "x": {"field": "wl", "type": "quantitative",
          "axis": {"orient": "top", "values": [3, 3.5, 4, 4.5, 5, 5.5, 6, 6.5, 7, 7.5, 8, 8.5, 9, 9.5, 10, 10.5, 11, 11.5, 12, 12.5, 13, 13.5, 14, 14.5, 15], "labels": false,
            "tickSize": {"condition": {"test": "datum.value % 1 === 0", "value": -7}, "value": -4}, "title": null}},
        "y": {"field": "refl", "type": "quantitative",
          "axis": {"orient": "right", "values": [0, 1, 2, 3, 4, 5, 6, 7, 8, 9, 10, 11, 12, 13, 14, 15, 16, 17, 18, 19, 20, 21, 22, 23, 24, 25, 26, 27, 28, 29, 30], "labels": false,
            "tickSize": {"condition": {"test": "datum.value % 5 === 0", "value": -9}, "value": -5}, "title": null}},
        "color": {"field": "series", "type": "nominal", "scale": {"range": ["#000000"]},
          "legend": {"orient": "none", "legendX": 198, "legendY": -123.5, "title": null, "padding": 0, "symbolType": "stroke", "symbolSize": 2401, "symbolStrokeWidth": 3, "symbolDash": [3, 4.5], "labelFontSize": 17, "labelColor": "#000000", "labelOffset": 3}}
      }
    }
  ]
}
